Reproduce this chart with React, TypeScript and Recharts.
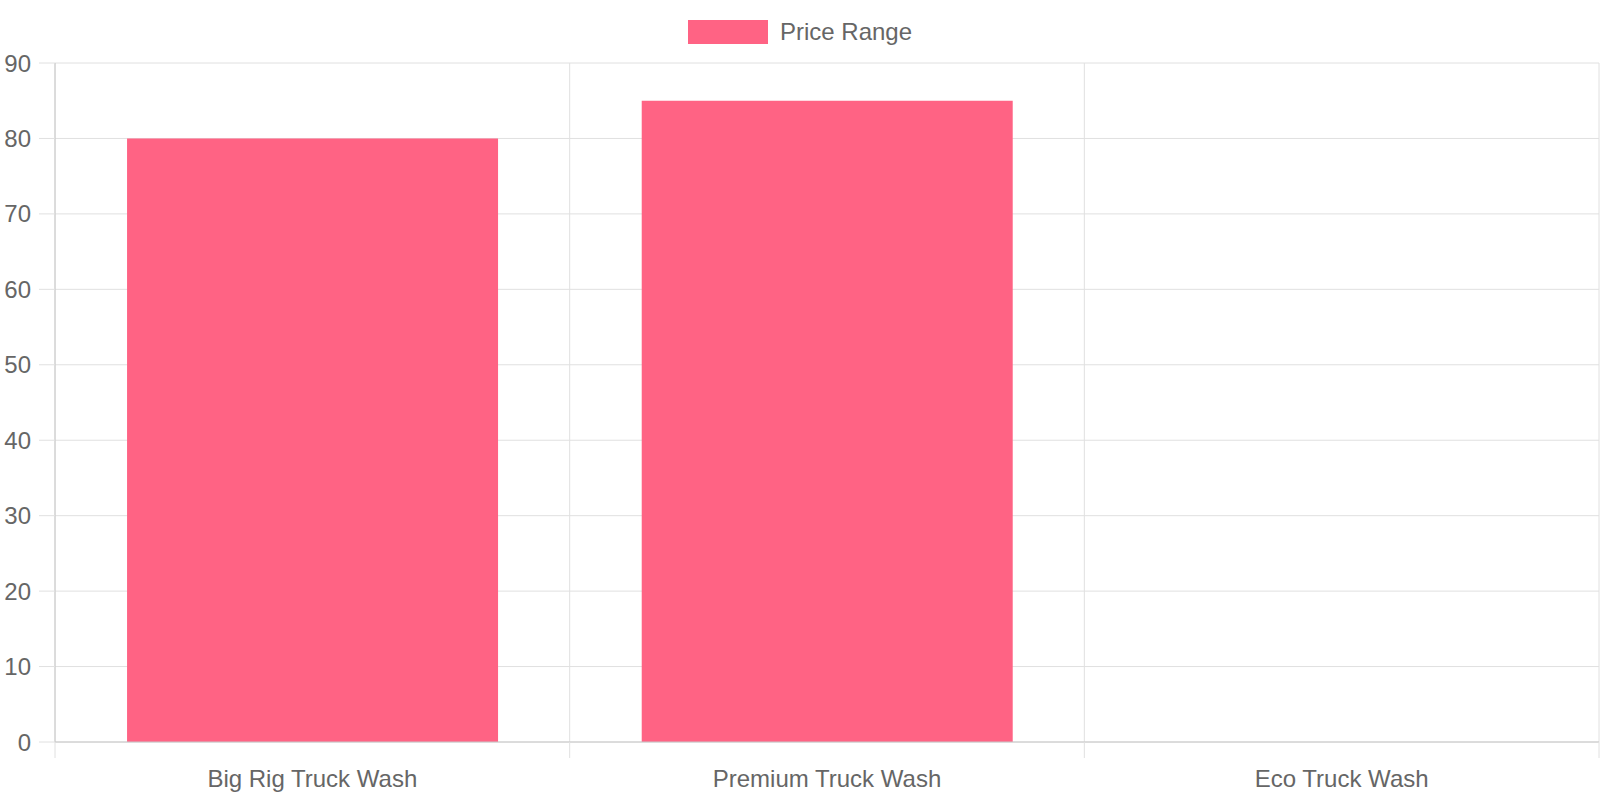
import React from 'react';
import { BarChart, Bar, XAxis, YAxis, CartesianGrid } from 'recharts';

const categories = ['Big Rig Truck Wash', 'Premium Truck Wash', 'Eco Truck Wash'];
const priceRange = [80, 85, 0];
const yTicks = [0, 10, 20, 30, 40, 50, 60, 70, 80, 90];

const data = categories.map((name, i) => ({ name, price: priceRange[i] }));

const W = 1600;
const H = 800;
const margin = { top: 63, right: 1, left: 0, bottom: 0 };
const yAxisWidth = 55;
const band = (W - margin.left - margin.right - yAxisWidth) / categories.length;
const xTickMargin = 12;

const FONT = '"Liberation Sans", Arial, Helvetica, sans-serif';
const TEXT = '#666666';
const GRID = '#e0e0e0';
const AXIS = '#c8c8c8';
const PINK = '#FF6384';

const XTick = (props: any) => {
    const { x, y, payload, index } = props;
    const top = y - xTickMargin;
    return (
        <g>
            <line x1={x - band / 2} y1={top - 16} x2={x - band / 2} y2={top} stroke={GRID} />
            {index === categories.length - 1 && (
                <line x1={x + band / 2} y1={top - 16} x2={x + band / 2} y2={top} stroke={GRID} />
            )}
            <text x={x} y={y} dy="0.71em" textAnchor="middle" fill={TEXT} fontSize={24} fontFamily={FONT}>
                {payload.value}
            </text>
        </g>
    );
};

export default function App() {
    return (
        <div style={{ position: 'absolute', left: 0, top: 0, width: W, height: H, background: '#fff' }}>
            <div
                style={{
                    position: 'absolute',
                    top: 20,
                    left: 0,
                    width: W,
                    display: 'flex',
                    justifyContent: 'center',
                    alignItems: 'center',
                    fontFamily: FONT,
                    fontSize: 24,
                    color: TEXT,
                    height: 24,
                }}
            >
                <span style={{ display: 'inline-block', width: 80, height: 24, background: PINK, marginRight: 12 }} />
                <span>Price Range</span>
            </div>
            <BarChart width={W} height={H} data={data} margin={margin} barCategoryGap="14%">
                <CartesianGrid
                    stroke={GRID}
                    verticalCoordinatesGenerator={({ offset }: any) =>
                        categories.map((_, i) => offset.left + i * (offset.width / categories.length)).concat(offset.left + offset.width)
                    }
                />
                <XAxis
                    dataKey="name"
                    height={58}
                    axisLine={{ stroke: AXIS }}
                    tickLine={false}
                    tickMargin={xTickMargin}
                    tickSize={16}
                    tick={<XTick />}
                    interval={0}
                />
                <YAxis
                    width={yAxisWidth}
                    domain={[0, 90]}
                    ticks={yTicks}
                    interval={0}
                    axisLine={{ stroke: AXIS }}
                    tickLine={{ stroke: GRID }}
                    tickSize={16}
                    tickMargin={8}
                    tick={{ fill: TEXT, fontSize: 24, fontFamily: FONT }}
                />
                <Bar dataKey="price" name="Price Range" fill={PINK} isAnimationActive={false} />
            </BarChart>
        </div>
    );
}
